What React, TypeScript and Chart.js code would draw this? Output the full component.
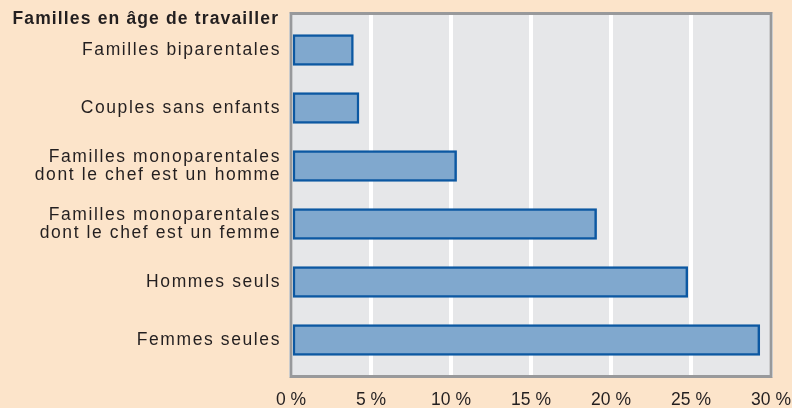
import React, { useEffect, useRef } from 'react';
import { Chart, registerables } from 'chart.js';

Chart.register(...registerables);

const CATEGORIES: (string | string[])[] = [
  'Familles biparentales',
  'Couples sans enfants',
  ['Familles monoparentales', 'dont le chef est un homme'],
  ['Familles monoparentales', 'dont le chef est un femme'],
  'Hommes seuls',
  'Femmes seules',
];
const VALUES = [3.9, 4.25, 10.35, 19.1, 24.8, 29.3];
const X_TICKS = [0, 5, 10, 15, 20, 25, 30];
const TITLE = 'Familles en âge de travailler';

const PAGE_BG = '#FCE4CA';
const PLOT_BG = '#E6E7E9';
const FRAME = '#98999B';
const BAR_FILL = '#80A8CE';
const BAR_EDGE = '#0C58A2';
const TEXT = '#231F20';
const FONT = '"Liberation Sans", Arial, Helvetica, sans-serif';

const framePlugin = {
  id: 'frame',
  beforeDraw(chart: any) {
    const { ctx, chartArea: a } = chart;
    ctx.save();
    ctx.fillStyle = PLOT_BG;
    ctx.fillRect(a.left, a.top, a.right - a.left, a.bottom - a.top);
    ctx.restore();
    const y = chart.scales.y as any;
    if (y && !y.__spaced) {
      const orig = y.drawLabels;
      y.drawLabels = function (area: any) {
        const c = this.ctx;
        c.save();
        c.letterSpacing = '1.6px';
        orig.call(this, area);
        c.restore();
      };
      y.__spaced = true;
    }
  },
  afterDraw(chart: any) {
    const { ctx, chartArea: a } = chart;
    ctx.save();
    ctx.strokeStyle = FRAME;
    ctx.lineWidth = 3;
    ctx.strokeRect(a.left, a.top, a.right - a.left, a.bottom - a.top);
    ctx.restore();

    const y = chart.scales.y;
    ctx.save();
    ctx.letterSpacing = '1.15px';
    ctx.font = `bold 17.5px ${FONT}`;
    ctx.fillStyle = TEXT;
    ctx.textAlign = 'right';
    ctx.textBaseline = 'alphabetic';
    ctx.fillText(TITLE, y.right - 11.8, a.top + 10.5);
    ctx.restore();
  },
};

export default function App() {
  const ref = useRef<HTMLCanvasElement | null>(null);

  useEffect(() => {
    if (!ref.current) return;
    const chart = new Chart(ref.current, {
      type: 'bar',
      data: {
        datasets: [
          {
            data: VALUES.map((v, i) => ({ x: v, y: i })),
            backgroundColor: BAR_FILL,
            borderColor: BAR_EDGE,
            borderWidth: 2.5,
            barThickness: 31,
            borderSkipped: false,
          },
        ],
      },
      options: {
        indexAxis: 'y',
        responsive: false,
        animation: false,
        events: [],
        layout: { padding: { top: 13.5, right: 21, bottom: 0, left: 0 } },
        plugins: {
          legend: { display: false },
          tooltip: { enabled: false },
          title: { display: false },
        },
        scales: {
          x: {
            type: 'linear',
            position: 'bottom',
            min: 0,
            max: 30,
            afterBuildTicks: (s: any) => {
              s.ticks = X_TICKS.map((v) => ({ value: v }));
            },
            afterFit: (s: any) => {
              s.height = 31.5;
              s.paddingLeft = 0;
              s.paddingRight = 0;
            },
            grid: { color: '#FFFFFF', lineWidth: 4, drawTicks: false },
            border: { display: false },
            ticks: {
              autoSkip: false,
              maxRotation: 0,
              padding: 13,
              color: TEXT,
              font: { family: FONT, size: 17.5 },
              callback: (v: any) => `${v} %`,
            },
          },
          y: {
            type: 'linear',
            reverse: true,
            offset: false,
            bounds: 'data',
            min: -0.63,
            max: 5.63,
            afterBuildTicks: (s: any) => {
              s.ticks = CATEGORIES.map((_, i) => ({ value: i }));
            },
            afterFit: (s: any) => {
              s.width = 291;
              s.paddingTop = 0;
              s.paddingBottom = 0;
            },
            grid: { display: false, drawTicks: false, offset: false },
            border: { display: false },
            ticks: {
              autoSkip: false,
              padding: 10,
              color: TEXT,
              font: { family: FONT, size: 17.5, lineHeight: 1 },
              callback: (v: any) => CATEGORIES[Math.round(Number(v))] as any,
            },
          },
        },
      },
      plugins: [framePlugin],
    } as any);
    return () => chart.destroy();
  }, []);

  return (
    <div
      style={{
        position: 'fixed',
        left: 0,
        top: 0,
        width: 792,
        height: 408,
        background: PAGE_BG,
      }}
    >
      <canvas ref={ref} width={792} height={408} style={{ display: 'block' }} />
    </div>
  );
}
